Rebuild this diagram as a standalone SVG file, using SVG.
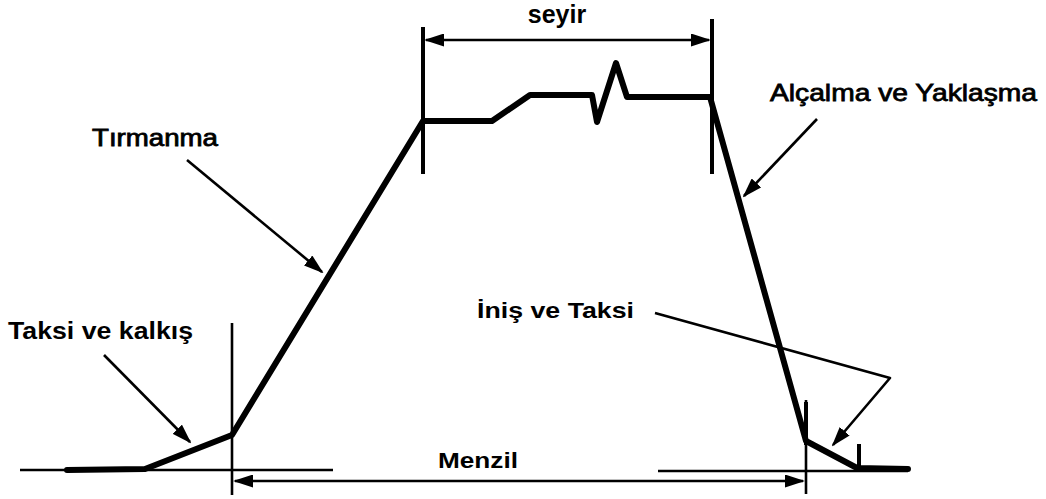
<svg xmlns="http://www.w3.org/2000/svg" width="1046" height="499" viewBox="0 0 1046 499">
<style>
.bg{fill:#fff}
.thick{fill:none;stroke:#000;stroke-width:6;stroke-linejoin:round;stroke-linecap:round}
.bar{fill:none;stroke:#000;stroke-width:4}
.thin{fill:none;stroke:#000;stroke-width:2.6}
.ann{fill:none;stroke:#000;stroke-width:2.6;stroke-linejoin:round}
.lb{font-family:"Liberation Sans",Arial,sans-serif;font-weight:bold;fill:#000}
.lr{font-family:"Liberation Sans",Arial,sans-serif;fill:#000;stroke:#000;stroke-width:0.8}
</style>
<defs>
<marker id="ah" markerUnits="userSpaceOnUse" markerWidth="20" markerHeight="13" refX="18" refY="6.5" orient="auto-start-reverse" viewBox="0 0 20 13">
<path d="M0,0 L20,6.5 L0,13 Z" fill="#000"/>
</marker>
</defs>
<rect class="bg" width="1046" height="499"/>
<g id="ground">
<line class="thin" x1="20" y1="470" x2="333" y2="470"/>
<line class="thin" x1="658" y1="471" x2="908" y2="471"/>
<line class="thin" x1="232" y1="323" x2="232" y2="495"/>
<line class="thin" x1="806" y1="400" x2="806" y2="494"/>
<line class="bar" x1="806" y1="402" x2="806" y2="445"/>
<line class="bar" x1="859" y1="444" x2="859" y2="468"/>
</g>
<g id="cruise-bounds">
<line class="bar" x1="423" y1="27" x2="423" y2="174"/>
<line class="bar" x1="712" y1="19" x2="712" y2="174"/>
</g>
<g id="profile">
<polyline class="thick" points="67,470 145,469 232,435 423,121 492,121 530,95 592,95 597,122 616,63 627,97 710,97 806,441 857,468 908,469"/>
</g>
<g id="connectors">
<line class="thin" x1="426" y1="40" x2="709" y2="40" marker-start="url(#ah)" marker-end="url(#ah)"/>
<line class="thin" x1="235" y1="481" x2="803" y2="481" marker-start="url(#ah)" marker-end="url(#ah)"/>
<line class="ann" x1="187" y1="160" x2="322" y2="272" marker-end="url(#ah)"/>
<line class="ann" x1="104" y1="355" x2="190" y2="442" marker-end="url(#ah)"/>
<line class="ann" x1="817" y1="119" x2="744" y2="196" marker-end="url(#ah)"/>
<polyline class="ann" points="655,313 890,378 833,445" marker-end="url(#ah)"/>
</g>
<g id="labels">
<text class="lb" x="557" y="23" font-size="25" text-anchor="middle">seyir</text>
<text class="lr" x="92" y="146" font-size="23" textLength="126" lengthAdjust="spacingAndGlyphs">Tırmanma</text>
<text class="lr" x="770" y="101" font-size="24" textLength="267" lengthAdjust="spacingAndGlyphs">Alçalma ve Yaklaşma</text>
<text class="lb" x="8" y="339" font-size="23" textLength="185" lengthAdjust="spacingAndGlyphs">Taksi ve kalkış</text>
<text class="lb" x="477" y="318" font-size="22" textLength="157" lengthAdjust="spacingAndGlyphs">İniş ve Taksi</text>
<text class="lb" x="438" y="468" font-size="22" textLength="80" lengthAdjust="spacingAndGlyphs">Menzil</text>
</g>
</svg>
